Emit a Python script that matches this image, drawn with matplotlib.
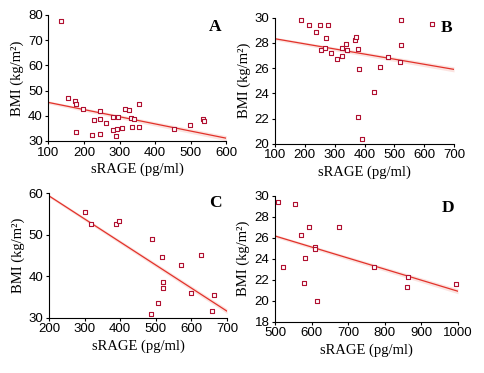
import matplotlib.pyplot as plt
import numpy as np

plt.rcParams['font.family'] = 'Liberation Sans'

# Panel A
a_x = [135, 154, 176, 179, 198, 177, 222, 227, 246, 244, 246, 261, 283, 283, 289,
       292, 297, 307, 315, 328, 331, 335, 342, 354, 356, 452, 498, 535, 536]
a_y = [77.4, 47.0, 45.7, 44.5, 42.5, 33.4, 32.4, 38.2, 41.7, 38.8, 32.8, 37.3, 39.7, 34.4, 32.0,
       34.8, 39.4, 35.1, 42.5, 42.1, 39.1, 35.4, 38.6, 44.6, 35.4, 34.6, 36.2, 38.6, 38.0]
a_fit = [45.3, 31.1]

# Panel B
b_x = [187, 214, 237, 250, 277, 271, 254, 268, 287, 308, 324, 324, 339, 341, 368,
       371, 379, 381, 379, 391, 432, 452, 478, 518, 522, 522, 627]
b_y = [29.8, 29.4, 28.9, 29.4, 29.4, 28.4, 27.4, 27.6, 27.2, 26.7, 27.0, 27.6, 27.9, 27.4, 28.2,
       28.5, 27.5, 25.9, 22.1, 20.4, 24.1, 26.1, 26.9, 26.5, 27.8, 29.8, 29.5]
b_fit = [28.33, 25.9]

# Panel C
c_x = [301, 318, 389, 397, 488, 517, 572, 627, 519, 519, 507, 486, 600, 664, 659]
c_y = [55.5, 52.5, 52.5, 53.3, 49.0, 44.6, 42.7, 45.1, 38.6, 37.1, 33.6, 30.8, 35.9, 35.5, 31.6]
c_fit = [59.4, 31.6]

# Panel D
d_x = [508, 555, 523, 571, 593, 582, 579, 610, 610, 615, 675, 771, 864, 861, 996]
d_y = [29.4, 29.2, 23.2, 26.3, 27.0, 24.1, 21.7, 25.1, 24.9, 20.0, 27.0, 23.2, 22.3, 21.3, 21.6]
d_fit = [26.16, 20.9]

panels = [
    ('A', a_x, a_y, a_fit, (100, 600), (30, 80), np.arange(100, 601, 100), np.arange(30, 81, 10),
     [0.0998, 0.622, 0.3678, 0.338], (0.938, 0.905)),
    ('B', b_x, b_y, b_fit, (100, 700), (20, 30), np.arange(100, 701, 100), np.arange(20, 31, 2),
     [0.5682, 0.6147, 0.3698, 0.3378], (0.961, 0.92)),
    ('C', c_x, c_y, c_fit, (200, 700), (30, 60), np.arange(200, 701, 100), np.arange(30, 61, 10),
     [0.1012, 0.148, 0.3678, 0.3335], (0.933, 0.924)),
    ('D', d_x, d_y, d_fit, (500, 1000), (18, 30), np.arange(500, 1001, 100), np.arange(18, 31, 2),
     [0.5682, 0.1375, 0.378, 0.338], (0.945, 0.905)),
]

fig = plt.figure(figsize=(4.84, 3.73), dpi=100)

for letter, x, y, fit, xl, yl, xt, yt, pos, lpos in panels:
    ax = fig.add_axes(pos)
    # faint confidence band round the fit line
    h = yl[1] - yl[0]
    ax.fill_between(xl, [fit[0] - 0.012 * h, fit[1] - 0.02 * h],
                    [fit[0] + 0.012 * h, fit[1] + 0.02 * h],
                    color='#fbe3e0', lw=0, zorder=1)
    ax.plot(xl, fit, color='#e2322a', lw=0.9, zorder=2)
    ax.scatter(x, y, marker='s', s=6, facecolors='white', edgecolors='#b01030',
               linewidths=0.8, zorder=3, clip_on=False)
    ax.set_xlim(xl)
    ax.set_ylim(yl)
    ax.set_xticks(xt)
    ax.set_yticks(yt)
    ax.spines['top'].set_visible(False)
    ax.spines['right'].set_visible(False)
    ax.tick_params(labelsize=9.5, length=2.5, width=0.8, pad=1.5)
    ax.set_xlabel('sRAGE (pg/ml)', family='Liberation Serif', fontsize=10.5, labelpad=3)
    ax.set_ylabel('BMI (kg/m²)', family='Liberation Serif', fontsize=10.5, labelpad=3)
    ax.text(lpos[0], lpos[1], letter, transform=ax.transAxes, ha='center', va='center',
            family='Liberation Serif', fontsize=12.5, fontweight='bold')

fig.savefig('out.png', dpi=100)
